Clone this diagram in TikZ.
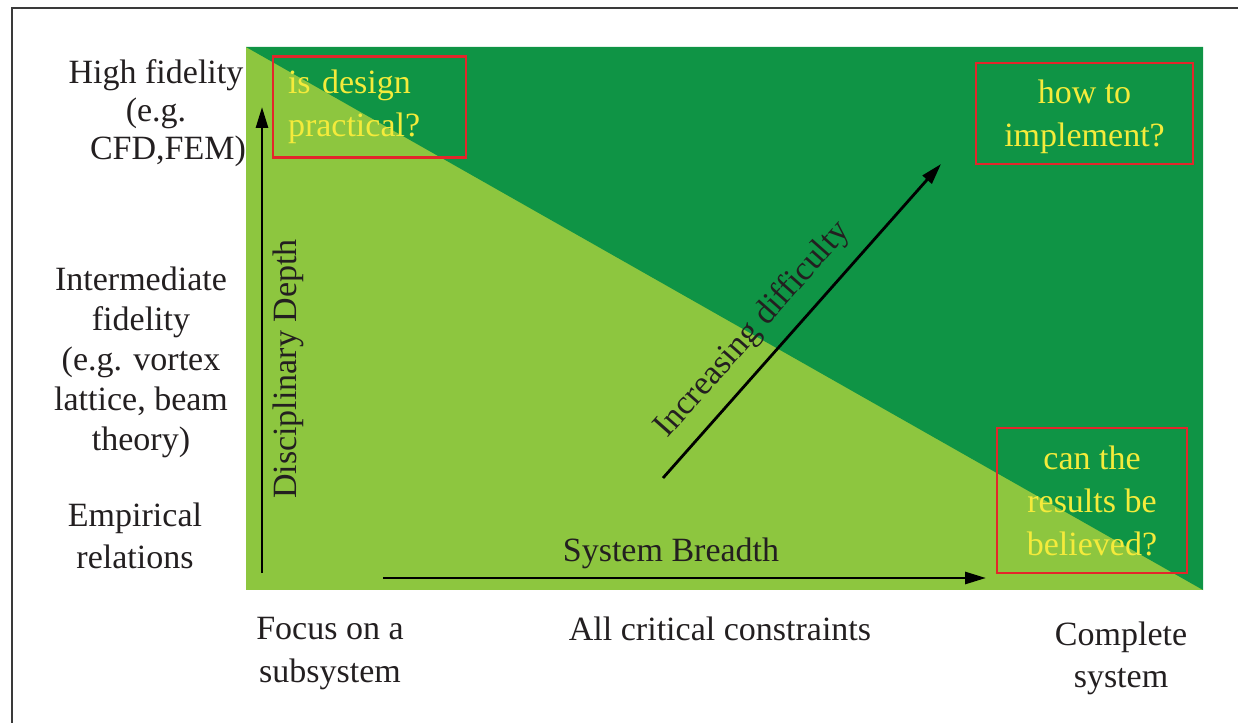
\documentclass[tikz,border=0pt]{standalone}
\usepackage{fontspec}
\setmainfont{Liberation Serif}
\usetikzlibrary{arrows.meta}
\definecolor{lightgr}{HTML}{8DC63F}
\definecolor{darkgr}{HTML}{0F9445}
\definecolor{boxred}{HTML}{E3262B}
\definecolor{qyellow}{HTML}{F4EB3B}
\definecolor{ink}{HTML}{231F20}
\definecolor{framegray}{HTML}{3A3A3A}
\begin{document}
\begin{tikzpicture}[x=1pt,y=-1pt,
  lbl/.style={font=\fontsize{34}{40}\selectfont, text=ink, align=center, inner sep=0pt},
  qbox/.style={draw=boxred, line width=2.2pt, text=qyellow,
    font=\fontsize{34}{43}\selectfont, align=center, inner sep=0pt},
  axisarrow/.style={line width=2.8pt, draw=black,
    -{Triangle[length=21pt,width=12pt]}}
]
\useasboundingbox (0,0) rectangle (1238,722);
% outer frame
\draw[line width=2.5pt, draw=framegray] (12,8) rectangle (1270,760);
% two regions of the design space
\fill[lightgr] (246,47) rectangle (1203,590);
\fill[darkgr] (246,47) -- (1203,47) -- (1203,590) -- cycle;

% question boxes
\node[qbox, minimum width=193pt, minimum height=101pt, text width=163pt, align=left]
  (practical) at (369.5,107) {is design\\practical?};
\node[qbox, minimum width=217pt, minimum height=101pt]
  (implement) at (1084.5,113.5) {\strut how to\\implement?};
\node[qbox, minimum width=190pt, minimum height=145pt]
  (believed) at (1092,500.5) {can the\\results be\\believed?};

% axes
\coordinate (vbot) at (262,573);
\coordinate (vtop) at (262,107);
\coordinate (hl) at (383,578);
\coordinate (hr) at (986,578);
\coordinate (dl) at (663,478);
\coordinate (dr) at (941,164);
\draw[axisarrow] (vbot) -- (vtop);
\draw[axisarrow] (hl) -- (hr);
\draw[axisarrow] (dl) -- (dr);

\node[lbl, rotate=90] (depth) at (288,369) {Disciplinary Depth};
\node[lbl, anchor=base] (breadth) at (671,561) {System Breadth};
\node[lbl, rotate=48.5] (difficulty) at (753,330) {Increasing difficulty};

% fidelity levels
\node[lbl, font=\fontsize{34}{38}\selectfont] (high) at (156,113) {High fidelity\\(e.g.\\\hspace*{24pt}CFD,FEM)};
\node[lbl] (mid) at (141,362) {Intermediate\\fidelity\\(e.g. vortex\\lattice, beam\\theory)};
\node[lbl, font=\fontsize{34}{42}\selectfont] (emp) at (135,536) {Empirical\\relations};

% system scope
\node[lbl, font=\fontsize{34}{43}\selectfont] (focus) at (330,654) {Focus on a\\subsystem};
\node[lbl, anchor=base] (critical) at (720,640) {All critical constraints};
\node[lbl, font=\fontsize{34}{42}\selectfont] (complete) at (1121,658) {Complete\\system};
\end{tikzpicture}
\end{document}
